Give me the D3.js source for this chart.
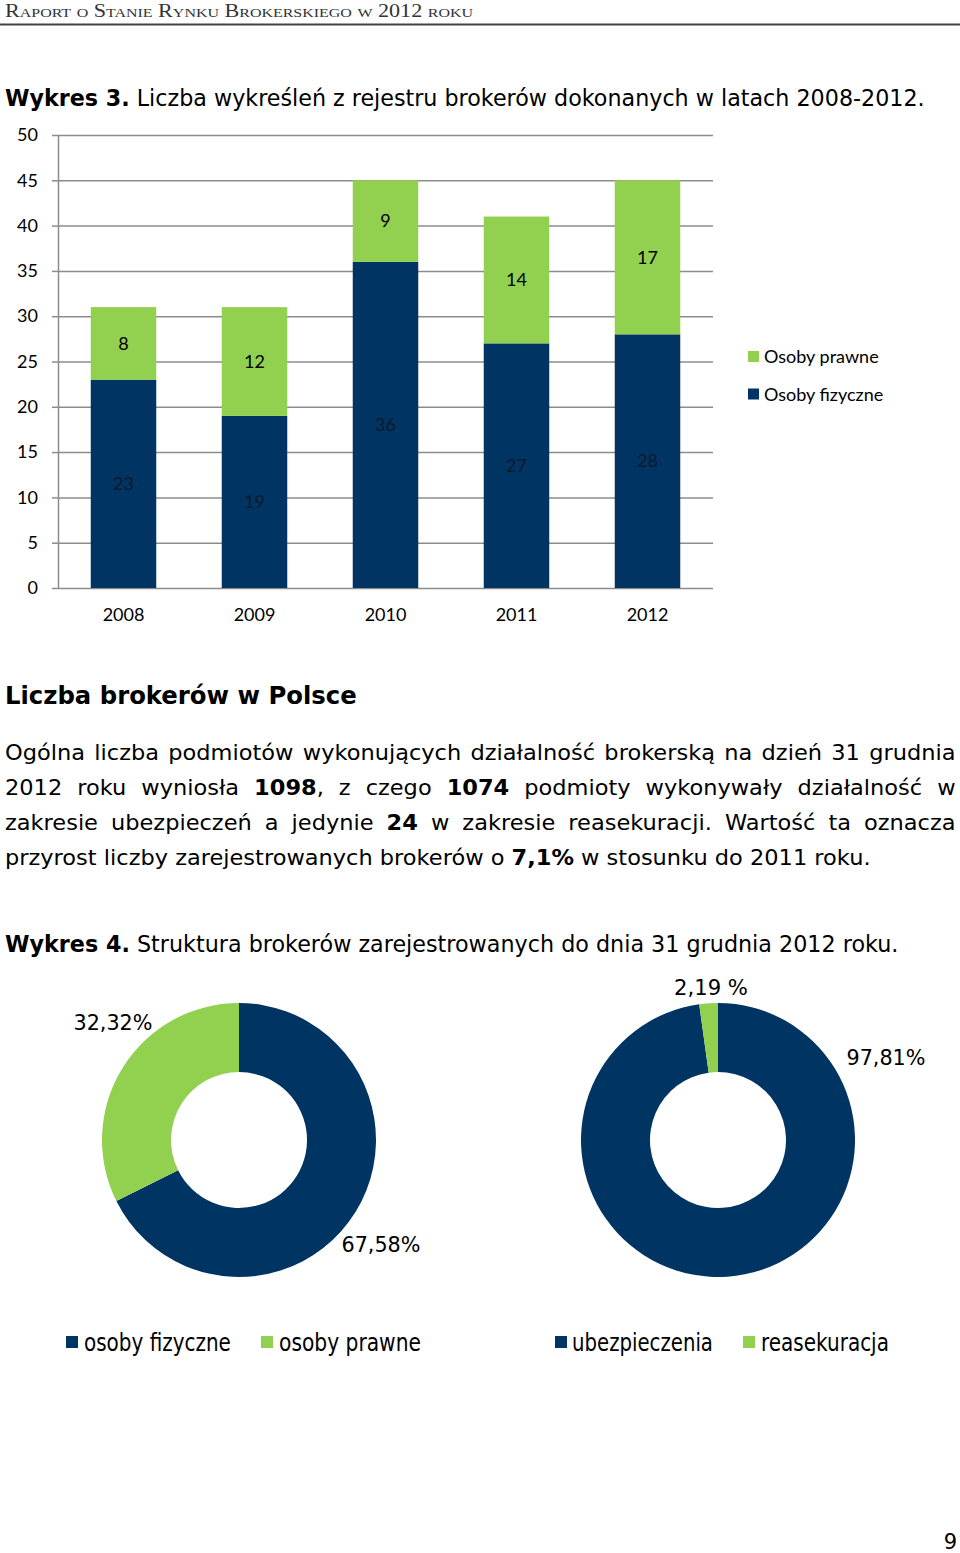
<!DOCTYPE html>
<html><head><meta charset="utf-8">
<script src="https://cdn.jsdelivr.net/npm/d3@7"></script>
<style>html,body{margin:0;padding:0;background:#fff;}svg{display:block;}</style>
</head><body>
<script>
// ---------- DATA ----------
const years = ["2008", "2009", "2010", "2011", "2012"];
const osobyFizyczne = [23, 19, 36, 27, 28];
const osobyPrawne = [8, 12, 9, 14, 17];
const yTicks = [0, 5, 10, 15, 20, 25, 30, 35, 40, 45, 50];
const barSeriesNames = ["Osoby prawne", "Osoby fizyczne"];

const donut1Labels = ["osoby fizyczne", "osoby prawne"];
const donut1Values = [67.58, 32.32];
const donut1Text = ["67,58%", "32,32%"];
const donut2Labels = ["ubezpieczenia", "reasekuracja"];
const donut2Values = [97.81, 2.19];
const donut2Text = ["97,81%", "2,19 %"];

// ---------- STYLE ----------
const NAVY = "#003462", GREEN = "#92D050", GRID = "#8c8c8c";
const CHART_FONT = "Lato, 'Open Sans', sans-serif";
const BODY_FONT = "'DejaVu Sans', Verdana, sans-serif";

const W = 960, H = 1553;
const svg = d3.select("body").append("svg").attr("width", W).attr("height", H);

// helper: text with rich segments, fitted horizontally to a width
function rich(x, y, segs, size, family, fitWidth, anchor) {
  const g = svg.append("g");
  const t = g.append("text").attr("x", 0).attr("y", 0)
    .attr("font-family", family).attr("font-size", size).attr("fill", "#000")
    .attr("xml:space", "preserve");
  segs.forEach(s => t.append("tspan").attr("font-weight", s.b ? "bold" : "normal").text(s.t));
  const w = t.node().getComputedTextLength();
  const sx = fitWidth ? fitWidth / w : 1;
  let tx = x;
  if (anchor === "middle") tx = x - (w * sx) / 2;
  if (anchor === "end") tx = x - w * sx;
  g.attr("transform", `translate(${tx},${y}) scale(${sx},1)`);
  return { g, t, w, sx };
}

// ---------- HEADER ----------
{
  const t = svg.append("text").attr("x", 5).attr("y", 17)
    .attr("font-family", "'Liberation Serif', serif").attr("font-size", 18)
    .attr("fill", "#333").style("font-variant", "small-caps")
    .attr("textLength", 468).attr("lengthAdjust", "spacingAndGlyphs")
    .text("Raport o Stanie Rynku Brokerskiego w 2012 roku");
  svg.append("line").attr("x1", 0).attr("x2", 960).attr("y1", 24.5).attr("y2", 24.5)
    .attr("stroke", "#444").attr("stroke-width", 2);
}

// ---------- TITLE 1 ----------
rich(5, 106, [{ t: "Wykres 3.", b: true }, { t: " Liczba wykreśleń z rejestru brokerów dokonanych w latach 2008-2012." }], 23, BODY_FONT, 920);

// ---------- BAR CHART ----------
const x = d3.scaleBand().domain(years).range([58, 713]).paddingInner(0.5).paddingOuter(0.25);
const y = d3.scaleLinear().domain([0, 50]).range([588, 135]);

const grid = svg.append("g").attr("transform", "translate(58,0)")
  .call(d3.axisLeft(y).tickValues(yTicks).tickSize(-(713 - 58)).tickFormat(""));
grid.select(".domain").remove();
grid.selectAll(".tick line").attr("stroke", GRID).attr("stroke-width", 1.5);

const yAx = svg.append("g").attr("transform", "translate(58,0)")
  .call(d3.axisLeft(y).tickValues(yTicks).tickSize(6).tickSizeOuter(0).tickPadding(14));
yAx.select(".domain").attr("stroke", GRID).attr("stroke-width", 1.5);
yAx.selectAll(".tick line").attr("stroke", GRID).attr("stroke-width", 1.5);
yAx.selectAll(".tick text").attr("font-family", CHART_FONT).attr("font-size", 18).attr("fill", "#000");

const xAx = svg.append("g").attr("transform", "translate(0,588)")
  .call(d3.axisBottom(x).tickSize(0).tickPadding(20));
xAx.select(".domain").remove();
xAx.selectAll(".tick text").attr("font-family", CHART_FONT).attr("font-size", 18).attr("fill", "#000");

const stackData = years.map((yr, i) => ({ year: yr, fiz: osobyFizyczne[i], praw: osobyPrawne[i] }));
const stacked = d3.stack().keys(["fiz", "praw"])(stackData);
const colors = { fiz: NAVY, praw: GREEN };
stacked.forEach(layer => {
  const g = svg.append("g");
  g.selectAll("rect").data(layer).join("rect")
    .attr("x", d => x(d.data.year)).attr("width", x.bandwidth())
    .attr("y", d => y(d[1])).attr("height", d => y(d[0]) - y(d[1]))
    .attr("fill", colors[layer.key]);
  g.selectAll("text").data(layer).join("text")
    .attr("x", d => x(d.data.year) + x.bandwidth() / 2)
    .attr("y", d => (y(d[0]) + y(d[1])) / 2)
    .attr("dy", "0.35em").attr("text-anchor", "middle")
    .attr("font-family", CHART_FONT).attr("font-size", 18)
    .attr("fill", layer.key === "fiz" ? "#0d1a2a" : "#000")
    .text(d => d.data[layer.key]);
});

// legend
const legColors = [GREEN, NAVY];
const leg = svg.append("g");
barSeriesNames.forEach((n, i) => {
  const ly = 357 + i * 37.5;
  leg.append("rect").attr("x", 748).attr("y", ly - 6).attr("width", 11).attr("height", 11).attr("fill", legColors[i]);
  leg.append("text").attr("x", 764).attr("y", ly).attr("dy", "0.35em")
    .attr("font-family", CHART_FONT).attr("font-size", 18).attr("fill", "#000").text(n);
});

// ---------- SECTION TEXT ----------
rich(5, 704, [{ t: "Liczba brokerów w Polsce", b: true }], 24, BODY_FONT, 352);

const paraLines = [
  [{ t: "Ogólna liczba podmiotów wykonujących działalność brokerską na dzień 31 grudnia" }],
  [{ t: "2012 roku wyniosła " }, { t: "1098", b: true }, { t: ", z czego " }, { t: "1074", b: true }, { t: " podmioty wykonywały działalność w" }],
  [{ t: "zakresie ubezpieczeń a jedynie " }, { t: "24", b: true }, { t: " w zakresie reasekuracji. Wartość ta oznacza" }],
  [{ t: "przyrost liczby zarejestrowanych brokerów o " }, { t: "7,1%", b: true }, { t: " w stosunku do 2011 roku." }]
];
{
  const last = rich(5, 865, paraLines[3], 22, BODY_FONT, 866);
  const sx = last.sx;
  for (let i = 0; i < 3; i++) {
    const r = rich(5, 760 + i * 35, paraLines[i], 22, BODY_FONT, null);
    r.g.attr("transform", `translate(5,${760 + i * 35}) scale(${sx},1)`);
    const txt = paraLines[i].map(s => s.t).join("");
    const nSpaces = (txt.match(/ /g) || []).length;
    const target = 951 / sx;
    const extra = (target - r.w) / nSpaces;
    r.t.style("word-spacing", extra + "px");
  }
}

rich(5, 952, [{ t: "Wykres 4.", b: true }, { t: " Struktura brokerów zarejestrowanych do dnia 31 grudnia 2012 roku." }], 23, BODY_FONT, 894);

// ---------- DONUTS ----------
function donut(cx, cy, values, labels, texts, labelPos, legendItems) {
  const pie = d3.pie().sort(null).value(d => d)(values);
  const arc = d3.arc().innerRadius(68).outerRadius(137);
  const g = svg.append("g").attr("transform", `translate(${cx},${cy})`);
  const cols = [NAVY, GREEN];
  g.selectAll("path").data(pie).join("path").attr("d", arc).attr("fill", (d, i) => cols[i]);
  texts.forEach((t, i) => {
    rich(cx + labelPos[i][0], cy + labelPos[i][1], [{ t }], 22, BODY_FONT, labelPos[i][2], "middle");
  });
  legendItems.forEach((li, i) => {
    svg.append("rect").attr("x", li[0]).attr("y", 1336).attr("width", 12).attr("height", 12).attr("fill", cols[i]);
    rich(li[1], 1351, [{ t: labels[i] }], 24, BODY_FONT, li[2]);
  });
}
donut(239, 1140, donut1Values, donut1Labels, donut1Text,
  [[142, 112, 79], [-126, -110, 79]],
  [[66, 84, 147], [261, 279, 142]]);
donut(718, 1140, donut2Values, donut2Labels, donut2Text,
  [[168, -75, 79], [-7, -145, 74]],
  [[555, 572, 141], [743, 761, 128]]);

// page number
svg.append("text").attr("x", 957).attr("y", 1549).attr("text-anchor", "end")
  .attr("font-family", BODY_FONT).attr("font-size", 21).attr("fill", "#000").text("9");
</script>
</body></html>
